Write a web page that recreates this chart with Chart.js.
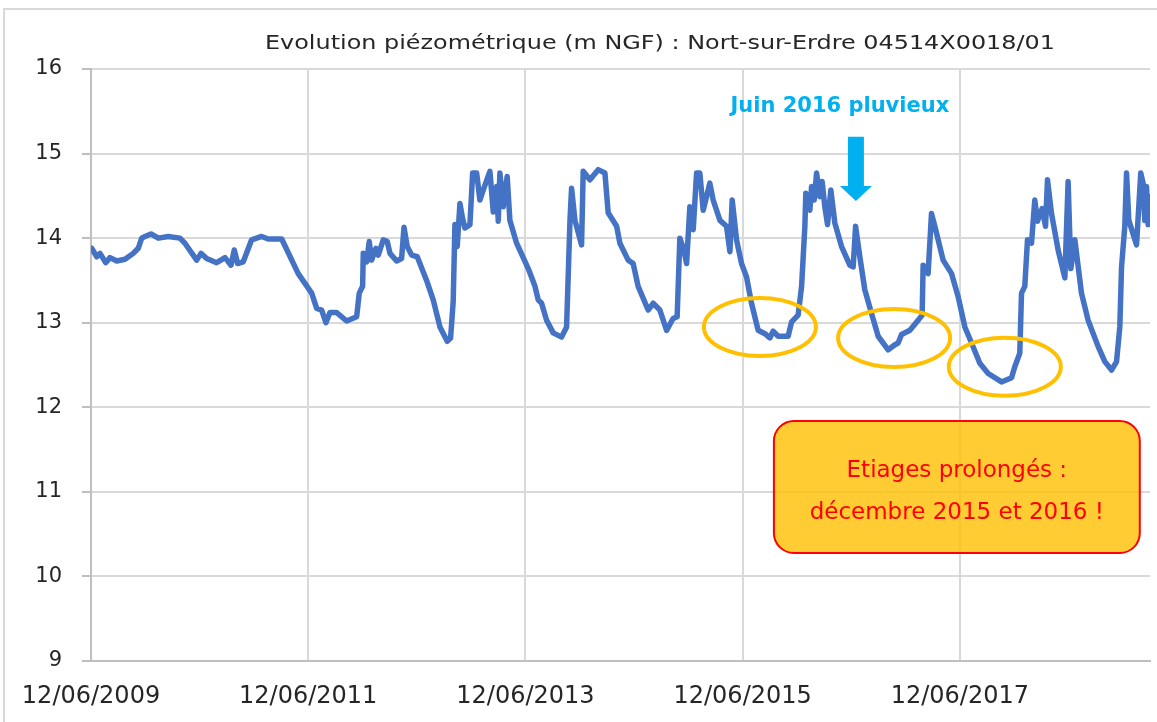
<!DOCTYPE html>
<html><head><meta charset="utf-8">
<script src="https://cdn.jsdelivr.net/npm/chart.js@4.4.1/dist/chart.umd.min.js"></script>
<style>html,body{margin:0;padding:0;background:#fff}canvas{display:block}</style>
</head><body>
<canvas id="c" width="1157" height="722"></canvas>
<script>
// ---- data (decimal years, piezometric level m NGF) ----
const years = [
2009.450,2009.497,2009.527,2009.579,2009.619,2009.681,2009.757,2009.833,2009.879,2009.911,
2009.941,2009.996,2010.064,2010.156,2010.263,2010.309,2010.417,2010.457,2010.509,2010.601,
2010.678,2010.733,2010.763,2010.794,2010.846,2010.923,2011.015,2011.076,2011.200,2011.352,
2011.476,2011.522,2011.568,2011.607,2011.644,2011.706,2011.798,2011.890,2011.914,2011.945,
2011.951,2011.982,2012.006,2012.028,2012.068,2012.089,2012.135,2012.172,2012.197,2012.258,
2012.304,2012.326,2012.356,2012.396,2012.448,2012.534,2012.595,2012.657,2012.724,2012.755,
2012.779,2012.795,2012.816,2012.841,2012.866,2012.887,2012.933,2012.958,2012.995,2013.025,
2013.056,2013.117,2013.148,2013.179,2013.194,2013.209,2013.240,2013.276,2013.301,2013.363,
2013.470,2013.532,2013.562,2013.593,2013.639,2013.700,2013.777,2013.823,2013.854,2013.869,
2013.900,2013.961,2013.976,2014.038,2014.114,2014.176,2014.206,2014.284,2014.314,2014.390,
2014.436,2014.482,2014.574,2014.620,2014.682,2014.744,2014.804,2014.841,2014.866,2014.903,
2014.928,2014.958,2014.989,2015.020,2015.050,2015.081,2015.142,2015.173,2015.235,2015.296,
2015.327,2015.348,2015.388,2015.434,2015.480,2015.526,2015.587,2015.649,2015.695,2015.725,
2015.771,2015.863,2015.895,2015.955,2015.987,2016.017,2016.026,2016.063,2016.079,2016.103,
2016.125,2016.155,2016.176,2016.201,2016.226,2016.256,2016.293,2016.355,2016.431,2016.462,
2016.484,2016.523,2016.569,2016.631,2016.692,2016.784,2016.846,2016.876,2016.907,2016.984,
2017.060,2017.097,2017.106,2017.152,2017.183,2017.214,2017.290,2017.368,2017.428,2017.490,
2017.552,2017.628,2017.705,2017.828,2017.920,2017.950,2017.996,2018.012,2018.042,2018.067,
2018.104,2018.134,2018.159,2018.202,2018.233,2018.251,2018.288,2018.349,2018.411,2018.441,
2018.466,2018.503,2018.564,2018.625,2018.717,2018.779,2018.841,2018.887,2018.917,2018.933,
2018.963,2018.979,2019.000,2019.071,2019.110,2019.131,2019.147,2019.163,2019.178,2019.193
];
const levels = [
13.88,13.78,13.82,13.71,13.77,13.73,13.75,13.82,13.88,14.00,
14.02,14.05,14.00,14.02,14.00,13.94,13.74,13.82,13.76,13.71,
13.77,13.68,13.86,13.70,13.72,13.98,14.02,13.99,13.99,13.58,
13.35,13.17,13.15,13.00,13.12,13.12,13.02,13.07,13.35,13.43,
13.82,13.72,13.96,13.74,13.88,13.80,13.98,13.96,13.82,13.73,
13.76,14.13,13.90,13.80,13.78,13.50,13.27,12.95,12.78,12.82,
13.25,14.16,13.90,14.41,14.23,14.12,14.16,14.77,14.77,14.45,
14.57,14.79,14.31,14.61,14.20,14.77,14.37,14.73,14.21,13.94,
13.64,13.43,13.27,13.23,13.03,12.88,12.83,12.95,14.20,14.59,
14.21,13.92,14.79,14.69,14.81,14.77,14.30,14.14,13.94,13.74,
13.70,13.43,13.15,13.23,13.15,12.91,13.05,13.07,14.00,13.86,
13.70,14.37,14.10,14.77,14.77,14.33,14.65,14.45,14.21,14.14,
13.84,14.45,13.98,13.70,13.54,13.23,12.91,12.87,12.82,12.90,
12.84,12.84,13.01,13.09,13.43,14.14,14.53,14.33,14.61,14.45,
14.77,14.49,14.67,14.37,14.16,14.57,14.18,13.90,13.68,13.66,
14.14,13.78,13.39,13.11,12.84,12.68,12.74,12.76,12.86,12.91,
13.03,13.09,13.68,13.58,14.29,14.14,13.74,13.58,13.31,12.95,
12.76,12.52,12.40,12.30,12.35,12.48,12.64,13.35,13.43,13.98,
13.94,14.45,14.20,14.35,14.14,14.69,14.29,13.86,13.53,14.67,
13.64,13.98,13.35,13.03,12.72,12.54,12.44,12.54,12.95,13.66,
14.14,14.77,14.21,13.92,14.77,14.65,14.21,14.61,14.16,14.49
];
const xTickValues = [2009.444, 2011.444, 2013.444, 2015.444, 2017.444];
const xTickLabels = ['12/06/2009','12/06/2011','12/06/2013','12/06/2015','12/06/2017'];
const yMin = 9, yMax = 16;
const xMin = 2009.444, xMax = 2019.195;
const chartTitle = 'Evolution piézométrique (m NGF) : Nort-sur-Erdre 04514X0018/01';
const noteRain = 'Juin 2016 pluvieux';
const noteBoxLines = ['Etiages prolongés :', 'décembre 2015 et 2016 !'];

// annotation anchors (data units)
const rainArrow = {x: 2016.487, yTop: 15.20, yTip: 14.44, textX: 2016.339, textY: 15.56};
const lowEllipses = [
  {x: 2015.603, y: 12.95},
  {x: 2016.839, y: 12.82},
  {x: 2017.858, y: 12.48}
];
const noteBox = {x0: 2015.732, x1: 2019.101, yTop: 11.838, yBottom: 10.277};

const points = years.map((x, i) => ({x, y: levels[i]}));

const decor = {
  id: 'decor',
  beforeDraw(chart) {
    const ctx = chart.ctx;
    ctx.save();
    ctx.fillStyle = '#ffffff';
    ctx.fillRect(0, 0, chart.width, chart.height);
    ctx.strokeStyle = '#d9d9d9';
    ctx.lineWidth = 2;
    ctx.strokeRect(4, 9, 1300, 900);
    // title, stretched horizontally to the reference width
    ctx.fillStyle = '#262626';
    ctx.font = '19px "DejaVu Sans"';
    ctx.textAlign = 'center';
    ctx.textBaseline = 'middle';
    const w = ctx.measureText(chartTitle).width;
    const sx = 790 / w;
    ctx.translate(660, 44);
    ctx.scale(sx, 1);
    ctx.fillText(chartTitle, 0, 0);
    ctx.restore();
  },
  afterDraw(chart) {
    const xs = chart.scales.x, ys = chart.scales.y, ctx = chart.ctx;
    ctx.save();
    // ellipses
    ctx.strokeStyle = '#FFC000';
    ctx.lineWidth = 4;
    lowEllipses.forEach(e => {
      ctx.beginPath();
      ctx.ellipse(xs.getPixelForValue(e.x), ys.getPixelForValue(e.y), 56, 29, 0, 0, Math.PI * 2);
      ctx.stroke();
    });
    // arrow
    const ax = xs.getPixelForValue(rainArrow.x);
    const aTop = ys.getPixelForValue(rainArrow.yTop);
    const aTip = ys.getPixelForValue(rainArrow.yTip);
    const headLen = 15;
    ctx.fillStyle = '#00B0F0';
    ctx.beginPath();
    ctx.moveTo(ax - 8, aTop);
    ctx.lineTo(ax + 8, aTop);
    ctx.lineTo(ax + 8, aTip - headLen);
    ctx.lineTo(ax + 16, aTip - headLen);
    ctx.lineTo(ax, aTip);
    ctx.lineTo(ax - 16, aTip - headLen);
    ctx.lineTo(ax - 8, aTip - headLen);
    ctx.closePath();
    ctx.fill();
    ctx.font = 'bold 21px "DejaVu Sans"';
    ctx.textAlign = 'center';
    ctx.textBaseline = 'middle';
    ctx.fillText(noteRain, xs.getPixelForValue(rainArrow.textX), ys.getPixelForValue(rainArrow.textY));
    // note box
    const bx0 = xs.getPixelForValue(noteBox.x0), bx1 = xs.getPixelForValue(noteBox.x1);
    const by0 = ys.getPixelForValue(noteBox.yTop), by1 = ys.getPixelForValue(noteBox.yBottom);
    ctx.beginPath();
    ctx.roundRect(bx0, by0, bx1 - bx0, by1 - by0, 20);
    ctx.fillStyle = 'rgba(255,192,0,0.8)';
    ctx.fill();
    ctx.strokeStyle = '#FF0000';
    ctx.lineWidth = 2;
    ctx.stroke();
    ctx.fillStyle = '#FF0000';
    ctx.font = '23px "DejaVu Sans"';
    const cx = (bx0 + bx1) / 2, cy = (by0 + by1) / 2;
    ctx.fillText(noteBoxLines[0], cx, cy - 16);
    ctx.fillText(noteBoxLines[1], cx, cy + 26);
    ctx.restore();
  }
};

new Chart(document.getElementById('c'), {
  type: 'line',
  data: {
    datasets: [{
      data: points,
      borderColor: '#4472C4',
      borderWidth: 5.5,
      pointRadius: 0,
      tension: 0,
      fill: false,
      borderJoinStyle: 'round',
      borderCapStyle: 'round'
    }]
  },
  options: {
    responsive: false,
    animation: false,
    devicePixelRatio: 1,
    parsing: false,
    layout: {padding: {left: 0, top: 69, right: 7, bottom: 0}},
    plugins: {legend: {display: false}, tooltip: {enabled: false}, title: {display: false}},
    scales: {
      x: {
        type: 'linear',
        min: xMin, max: xMax,
        afterBuildTicks: s => { s.ticks = xTickValues.map(v => ({value: v})); },
        afterFit: s => { s.height = 61; },
        grid: {color: '#d9d9d9', lineWidth: 2, drawTicks: false},
        border: {color: '#bfbfbf', width: 2},
        ticks: {
          padding: 21, maxRotation: 0, autoSkip: false,
          color: '#262626', font: {family: 'DejaVu Sans', size: 24},
          callback: (v, i) => xTickLabels[i]
        }
      },
      y: {
        min: yMin, max: yMax,
        afterBuildTicks: s => { const t = []; for (let v = yMin; v <= yMax; v++) t.push({value: v}); s.ticks = t; },
        afterFit: s => { s.width = 91; },
        grid: {color: '#d9d9d9', lineWidth: 2, tickLength: 9, tickColor: '#bfbfbf'},
        border: {color: '#bfbfbf', width: 2},
        ticks: {padding: 20, color: '#262626', font: {family: 'DejaVu Sans', size: 21}}
      }
    }
  },
  plugins: [decor]
});
</script>
</body></html>
